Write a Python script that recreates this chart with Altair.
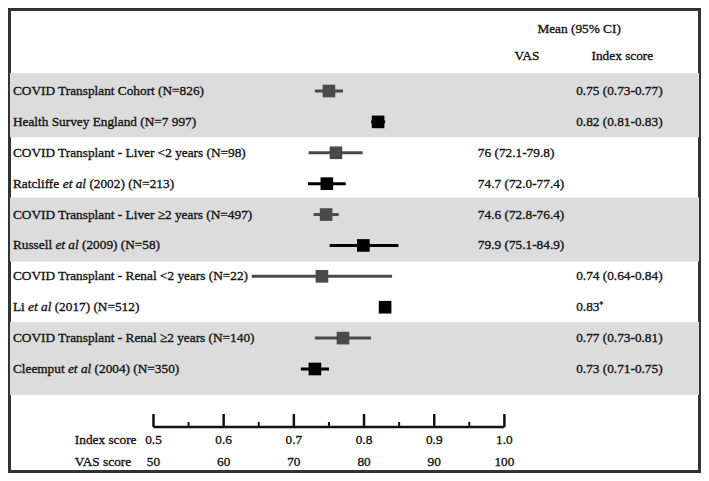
import altair as alt
import pandas as pd

# ---------------- data ----------------
studies = [
    "COVID Transplant Cohort (N=826)",
    "Health Survey England  (N=7 997)",
    "COVID Transplant - Liver <2 years (N=98)",
    "Ratcliffe et al (2002) (N=213)",
    "COVID Transplant - Liver ≥2 years (N=497)",
    "Russell et al (2009) (N=58)",
    "COVID Transplant - Renal <2 years (N=22)",
    "Li et al (2017) (N=512)",
    "COVID Transplant - Renal ≥2 years (N=140)",
    "Cleemput et al (2004) (N=350)",
]
groups = ["COVID", "Reference", "COVID", "Reference", "COVID",
          "Reference", "COVID", "Reference", "COVID", "Reference"]
measure = ["Index", "Index", "VAS", "VAS", "VAS", "VAS", "Index", "Index", "Index", "Index"]
means = [0.75, 0.82, 76, 74.7, 74.6, 79.9, 0.74, 0.83, 0.77, 0.73]
lowers = [0.73, 0.81, 72.1, 72.0, 72.8, 75.1, 0.64, None, 0.73, 0.71]
uppers = [0.77, 0.83, 79.8, 77.4, 76.4, 84.9, 0.84, None, 0.81, 0.75]
vas_text = ["", "", "76 (72.1-79.8)", "74.7 (72.0-77.4)", "74.6 (72.8-76.4)",
            "79.9 (75.1-84.9)", "", "", "", ""]
index_text = ["0.75 (0.73-0.77)", "0.82 (0.81-0.83)", "", "", "", "",
              "0.74 (0.64-0.84)", "0.83\u207a", "0.77 (0.73-0.81)", "0.73 (0.71-0.75)"]

band_starts = [-0.58, 3.45, 7.48]
band_ends = [1.5, 5.52, 9.84]

major_ticks = [0.5, 0.6, 0.7, 0.8, 0.9, 1.0]
minor_ticks = [0.55, 0.65, 0.75, 0.85, 0.95]
index_labels = ["0.5", "0.6", "0.7", "0.8", "0.9", "1.0"]
vas_labels = ["50", "60", "70", "80", "90", "100"]

# ---------------- layout ----------------
W, H = 693, 465
SX = W / 705


def px(x):
    return (x - 2) * SX


def py(y):
    return y - 8


FONT = "Liberation Serif"
FS = 13.3
TXT = "#151515"

# Times-compatible advance widths (1/1000 em) for measuring label prefixes
REG = {"R": 667, "a": 444, "t": 278, "c": 444, "l": 278, "i": 278, "f": 333,
       "e": 444, " ": 250, "u": 500, "s": 389, "L": 611, "C": 667, "m": 778, "p": 500}
ITA = {"e": 444, "t": 278, " ": 250, "a": 500, "l": 278}


def tw(s, table):
    return sum(table.get(ch, 500) for ch in s) * FS / 1000


LABEL_X = px(7)

rows = []
for i, s in enumerate(studies):
    if " et al " in s:
        pre, suf = s.split(" et al ")
        pre = pre + " "
        ita = "et al"
        x_it = LABEL_X + tw(pre, REG)
        x_suf = x_it + tw("et al ", ITA)
    else:
        pre, ita, suf = s, "", ""
        x_it = LABEL_X
        x_suf = LABEL_X
    div = 100.0 if measure[i] == "VAS" else 1.0
    rows.append({
        "row": i,
        "group": groups[i],
        "mean": means[i] / div,
        "lo": None if lowers[i] is None else lowers[i] / div,
        "hi": None if uppers[i] is None else uppers[i] / div,
        "pre": pre, "ita": ita, "suf": suf,
        "x_it": x_it, "x_suf": x_suf,
        "vas": vas_text[i], "idx": index_text[i],
    })
df = pd.DataFrame(rows)
df_ci = df.dropna(subset=["lo", "hi"])

bands = pd.DataFrame({"y0": band_starts, "y1": band_ends})
majors = pd.DataFrame({"v": major_ticks, "il": index_labels, "vl": vas_labels})
minors = pd.DataFrame({"v": minor_ticks})
axis_line = pd.DataFrame({"a": [major_ticks[0]], "b": [major_ticks[-1]]})

xscale = alt.Scale(domain=[0.5, 1.0], range=[px(150), px(507)], zero=False, nice=False)
yscale = alt.Scale(domain=[0, 9], range=[py(91), py(369)], zero=False, nice=False)
cscale = alt.Scale(domain=["COVID", "Reference"], range=["#4a4a4a", "#000000"])

Yrow = alt.Y("row:Q", scale=yscale, axis=None)

band_layer = alt.Chart(bands).mark_rect(color="#dcdcdc").encode(
    x=alt.value(2), x2=alt.value(W - 2),
    y=alt.Y("y0:Q", scale=yscale, axis=None), y2="y1:Q",
)

ci_layer = alt.Chart(df_ci).mark_rule(strokeWidth=3).encode(
    x=alt.X("lo:Q", scale=xscale, axis=None), x2="hi:Q", y=Yrow,
    color=alt.Color("group:N", scale=cscale, legend=None),
)

sq_layer = alt.Chart(df).mark_square(size=160, opacity=1, strokeWidth=0).encode(
    x=alt.X("mean:Q", scale=xscale, axis=None), y=Yrow,
    color=alt.Color("group:N", scale=cscale, legend=None),
)

text_kw = dict(font=FONT, fontSize=FS, color=TXT, baseline="middle",
               stroke=TXT, strokeWidth=0.35)

pre_layer = alt.Chart(df).mark_text(align="left", **text_kw).encode(
    x=alt.value(LABEL_X), y=Yrow, text="pre:N")
ita_layer = alt.Chart(df).mark_text(align="left", fontStyle="italic", **text_kw).encode(
    x=alt.X("x_it:Q", scale=None), y=Yrow, text="ita:N")
suf_layer = alt.Chart(df).mark_text(align="left", **text_kw).encode(
    x=alt.X("x_suf:Q", scale=None), y=Yrow, text="suf:N")

vas_layer = alt.Chart(df).mark_text(align="left", **text_kw).encode(
    x=alt.value(px(480)), y=Yrow, text="vas:N")
idx_layer = alt.Chart(df).mark_text(align="left", **text_kw).encode(
    x=alt.value(px(580)), y=Yrow, text="idx:N")

hdr = pd.DataFrame({"t": ["Mean (95% CI)"]})
hdr_mean = alt.Chart(hdr).mark_text(align="center", **text_kw).encode(
    x=alt.value(px(583)), y=alt.value(py(29)), text="t:N")
hdr2 = pd.DataFrame({"t": ["VAS"]})
hdr_vas = alt.Chart(hdr2).mark_text(align="center", **text_kw).encode(
    x=alt.value(px(530)), y=alt.value(py(56)), text="t:N")
hdr3 = pd.DataFrame({"t": ["Index score"]})
hdr_idx = alt.Chart(hdr3).mark_text(align="center", **text_kw).encode(
    x=alt.value(px(627)), y=alt.value(py(56)), text="t:N")

AX_Y = py(427)
axis_layer = alt.Chart(axis_line).mark_rule(color="#111111", strokeWidth=2.5).encode(
    x=alt.X("a:Q", scale=xscale, axis=None), x2="b:Q", y=alt.value(AX_Y))
major_layer = alt.Chart(majors).mark_rule(color="#111111", strokeWidth=2.5).encode(
    x=alt.X("v:Q", scale=xscale, axis=None), y=alt.value(py(414)), y2=alt.value(AX_Y))
minor_layer = alt.Chart(minors).mark_rule(color="#111111", strokeWidth=2).encode(
    x=alt.X("v:Q", scale=xscale, axis=None), y=alt.value(py(422)), y2=alt.value(AX_Y))
il_layer = alt.Chart(majors).mark_text(align="center", **text_kw).encode(
    x=alt.X("v:Q", scale=xscale, axis=None), y=alt.value(py(440)), text="il:N")
vl_layer = alt.Chart(majors).mark_text(align="center", **text_kw).encode(
    x=alt.X("v:Q", scale=xscale, axis=None), y=alt.value(py(462)), text="vl:N")
axt = pd.DataFrame({"t": ["Index score", "VAS score"], "yy": [py(440), py(462)]})
axt_layer = alt.Chart(axt).mark_text(align="left", **text_kw).encode(
    x=alt.value(px(70)), y=alt.Y("yy:Q", scale=None), text="t:N")

chart = alt.layer(
    band_layer, ci_layer, sq_layer,
    pre_layer, ita_layer, suf_layer, vas_layer, idx_layer,
    hdr_mean, hdr_vas, hdr_idx,
    axis_layer, major_layer, minor_layer, il_layer, vl_layer, axt_layer,
).resolve_scale(
    x="independent", y="independent"
).properties(
    width=W, height=H, padding=0,
    autosize=alt.AutoSizeParams(type="none"),
    background="white",
).configure_view(stroke="#333333", strokeWidth=6)

chart.save("out.html", embed_options={"renderer": "svg", "actions": False})
